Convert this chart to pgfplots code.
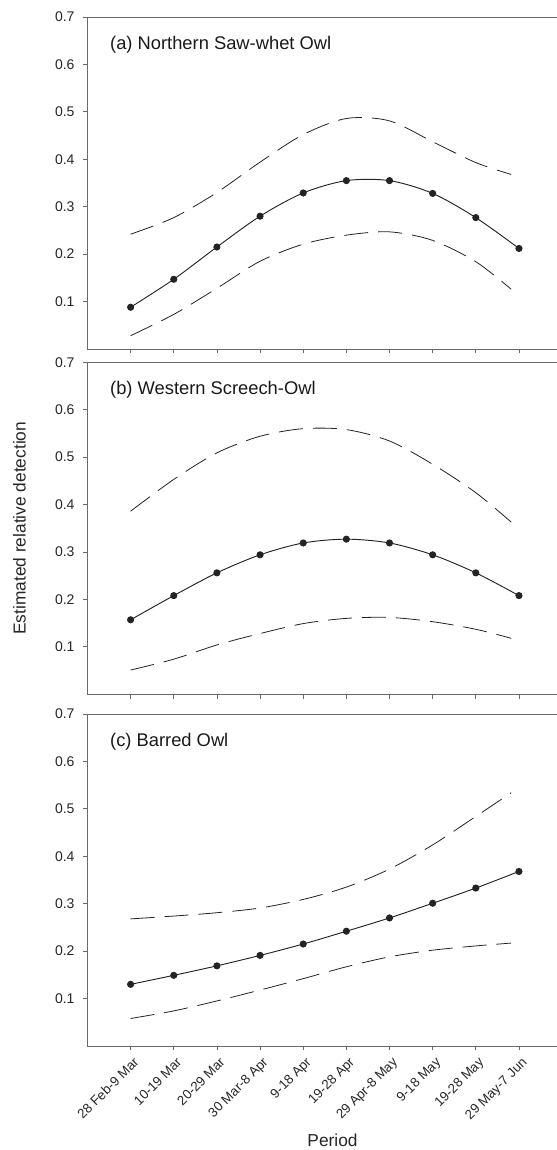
\documentclass[border=0pt]{standalone}
\usepackage{fontspec}
\setmainfont{Liberation Sans}
\usepackage{pgfplots}
\pgfplotsset{compat=1.18}

\definecolor{axisgray}{RGB}{105,105,105}
\definecolor{curvecol}{RGB}{35,35,35}

\tikzset{
  paneltitle/.style={anchor=west, font=\fontsize{13.75}{15}\selectfont,
    text=black!90, xshift=13.5pt, yshift=-20.5pt},
}

\pgfplotsset{
  owlpanel/.style={
    scale only axis,
    width=352.1pt, height=249pt,
    xmin=0, xmax=10.88,
    ymin=0, ymax=0.7,
    axis x line*=box,
    axis y line*=left,
    axis line style={axisgray, line width=0.6pt, -},
    xtick={1,2,3,4,5,6,7,8,9,10},
    ytick={0.1,0.2,0.3,0.4,0.5,0.6,0.7},
    xticklabels={},
    tick align=outside,
    xtick pos=bottom,
    ytick pos=left,
    major tick length=3.2pt,
    tick style={axisgray, line width=0.6pt},
    /pgf/number format/assume math mode=true,
    /pgf/number format/fixed,
    /pgf/number format/precision=1,
    y tick label style={font=\fontsize{10.5}{12}\selectfont, text=black!85,
      xshift=-3pt},
    clip=false,
  },
  est/.style={curvecol, line width=0.7pt, smooth, mark=*, mark size=2.3pt,
    mark options={fill=curvecol, draw=curvecol}},
  ci/.style={curvecol, line width=0.6pt, smooth, no markers,
    dash pattern=on 18pt off 7.5pt},
}

\begin{document}
\begin{tikzpicture}
\useasboundingbox (0,0) rectangle (417.75pt,862.5pt);

% (a) Northern Saw-whet Owl
\begin{axis}[owlpanel, at={(65.6pt,600.75pt)}, anchor=south west]
\addplot[ci] coordinates {(1,0.242)(2,0.277)(3,0.330)(4,0.394)(5,0.452)(6,0.486)(7,0.481)(8,0.437)(9,0.393)(9.82,0.368)};
\addplot[ci] coordinates {(1,0.028)(2,0.073)(3,0.128)(4,0.185)(5,0.221)(6,0.240)(7,0.247)(8,0.229)(9,0.184)(9.82,0.126)};
\addplot[est] coordinates {(1,0.088)(2,0.147)(3,0.215)(4,0.280)(5,0.329)(6,0.355)(7,0.355)(8,0.328)(9,0.277)(10,0.212)};
\node[paneltitle] at (rel axis cs:0,1) {(a) Northern Saw-whet Owl};
\end{axis}

% (b) Western Screech-Owl
\begin{axis}[owlpanel, at={(65.6pt,341.8pt)}, anchor=south west,
  ylabel={Estimated relative detection},
  ylabel style={at={(axis description cs:-0.145,0.5)}, anchor=center,
    font=\fontsize{13}{15}\selectfont, text=black!85}]
\addplot[ci] coordinates {(1,0.386)(2,0.453)(3,0.509)(4,0.544)(5,0.560)(6,0.558)(7,0.534)(8,0.485)(9,0.425)(9.82,0.363)};
\addplot[ci] coordinates {(1,0.051)(2,0.074)(3,0.104)(4,0.128)(5,0.149)(6,0.160)(7,0.162)(8,0.153)(9,0.137)(9.82,0.118)};
\addplot[est] coordinates {(1,0.157)(2,0.208)(3,0.256)(4,0.294)(5,0.319)(6,0.327)(7,0.319)(8,0.294)(9,0.256)(10,0.208)};
\node[paneltitle] at (rel axis cs:0,1) {(b) Western Screech-Owl};
\end{axis}

% (c) Barred Owl
\begin{axis}[owlpanel, at={(65.6pt,78pt)}, anchor=south west,
  xticklabels={28 Feb-9 Mar, 10-19 Mar, 20-29 Mar, 30 Mar-8 Apr, 9-18 Apr,
    19-28 Apr, 29 Apr-8 May, 9-18 May, 19-28 May, 29 May-7 Jun},
  x tick label style={anchor=north east, xshift=1.5pt, yshift=-3pt, rotate=45,
    font=\fontsize{10}{12}\selectfont, text=black!85, inner sep=1pt},
  xlabel={Period},
  xlabel style={at={(axis description cs:0.522,0)}, anchor=north, inner sep=0pt,
    yshift=-65.75pt, font=\fontsize{13}{15}\selectfont, text=black!85}]
\addplot[ci] coordinates {(1,0.268)(2,0.274)(3,0.281)(4,0.291)(5,0.309)(6,0.335)(7,0.373)(8,0.424)(9,0.484)(9.82,0.534)};
\addplot[ci] coordinates {(1,0.058)(2,0.074)(3,0.095)(4,0.118)(5,0.142)(6,0.167)(7,0.188)(8,0.202)(9,0.211)(9.82,0.217)};
\addplot[est] coordinates {(1,0.130)(2,0.149)(3,0.169)(4,0.191)(5,0.215)(6,0.242)(7,0.270)(8,0.301)(9,0.333)(10,0.368)};
\node[paneltitle] at (rel axis cs:0,1) {(c) Barred Owl};
\end{axis}
\end{tikzpicture}
\end{document}
